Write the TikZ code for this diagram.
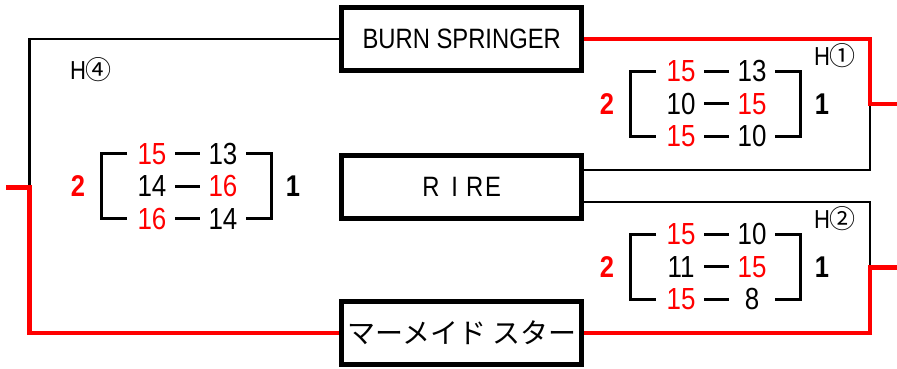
\documentclass[tikz,border=0pt]{standalone}
\usepackage{fontspec}
\setmainfont[FakeStretch=0.85]{Liberation Sans}
\newfontfamily\jpfont{Noto Sans CJK JP}
\usetikzlibrary{calc}

\begin{document}
\begin{tikzpicture}[x=1pt,y=1pt]

	\tikzstyle{teambox}=[draw, line width=4.7pt, minimum width=240pt, minimum height=63pt, inner sep=0pt, font=\fontsize{28}{30}\selectfont];
	\tikzstyle{lose}=[line width=2.2pt];
	\tikzstyle{win}=[red, line width=4.6pt];
	\tikzstyle{rule}=[line width=3pt];
	\tikzstyle{score}=[minimum width=46pt, inner sep=0pt, font=\fontsize{30.5}{32}\selectfont];
	\tikzstyle{side}=[inner sep=0pt, font=\fontsize{30}{32}\selectfont\bfseries];
	\tikzstyle{hlabel}=[inner sep=0pt, font=\fontsize{26}{28}\selectfont];

	\useasboundingbox (0,0) rectangle (897,369);

	% teams
	\node (burn) at (461.7,330) [teambox]{BURN SPRINGER};
	\node (rire) at (461.7,182) [teambox]{R\kern12pt I\kern8pt R\kern2pt E};
	\node (mermaid) at (461.7,36) [teambox]{\jpfont マーメイド スター};

	% bracket lines
	\coordinate (lout) at (6,181.5);
	\coordinate (ljoin) at (29.5,181.5);
	\coordinate (rjoin1) at (870,265);
	\coordinate (h1out) at (897,265);
	\coordinate (rjoin2) at (870,101.5);
	\coordinate (h2out) at (897,101.5);

	\draw[lose] (burn.west) -| (ljoin);
	\draw[win] (lout) -- (ljoin) |- (mermaid.west);
	\draw[lose] ([yshift=17pt]rire.east) -| (rjoin1);
	\draw[win] (burn.east) -| (rjoin1) -- (h1out);
	\draw[lose] ([yshift=-15pt]rire.east) -| (rjoin2);
	\draw[win] (h2out) -- (rjoin2) |- (mermaid.east);

	% scores
	\foreach \hn/\bx/\by/\sa/\sb/\sc/\sd/\se/\sf in {h4/101/182.5/15/13/14/16/16/14, h1/630/265/15/13/10/15/15/10, h2/630/102/15/10/11/15/15/8} {
		\node (\hn-la) at (\bx+51,\by+32.5) [score, red]{\sa};
		\node (\hn-ra) at (\bx+122,\by+32.5) [score]{\sb};
		\node (\hn-lb) at (\bx+51,\by) [score]{\sc};
		\node (\hn-rb) at (\bx+122,\by) [score, red]{\sd};
		\node (\hn-lc) at (\bx+51,\by-32.5) [score, red]{\se};
		\node (\hn-rc) at (\bx+122,\by-32.5) [score]{\sf};
		\draw[rule] (\hn-la) -- (\hn-ra);
		\draw[rule] (\hn-lb) -- (\hn-rb);
		\draw[rule] (\hn-lc) -- (\hn-rc);
		\draw[rule] (\bx+26,\by+32.5) -| (\bx,\by-32.5) -- (\bx+26,\by-32.5);
		\draw[rule] (\bx+145,\by+32.5) -| (\bx+170,\by-32.5) -- (\bx+145,\by-32.5);
		\node (\hn-won) at (\bx-23,\by) [side, red]{2};
		\node (\hn-lost) at (\bx+192,\by) [side]{1};
	}

	\node (h4) at (91,299) [hlabel]{H{\jpfont ④}};
	\node (h1) at (835,313) [hlabel]{H{\jpfont ①}};
	\node (h2) at (835,150) [hlabel]{H{\jpfont ②}};

\end{tikzpicture}
\end{document}
